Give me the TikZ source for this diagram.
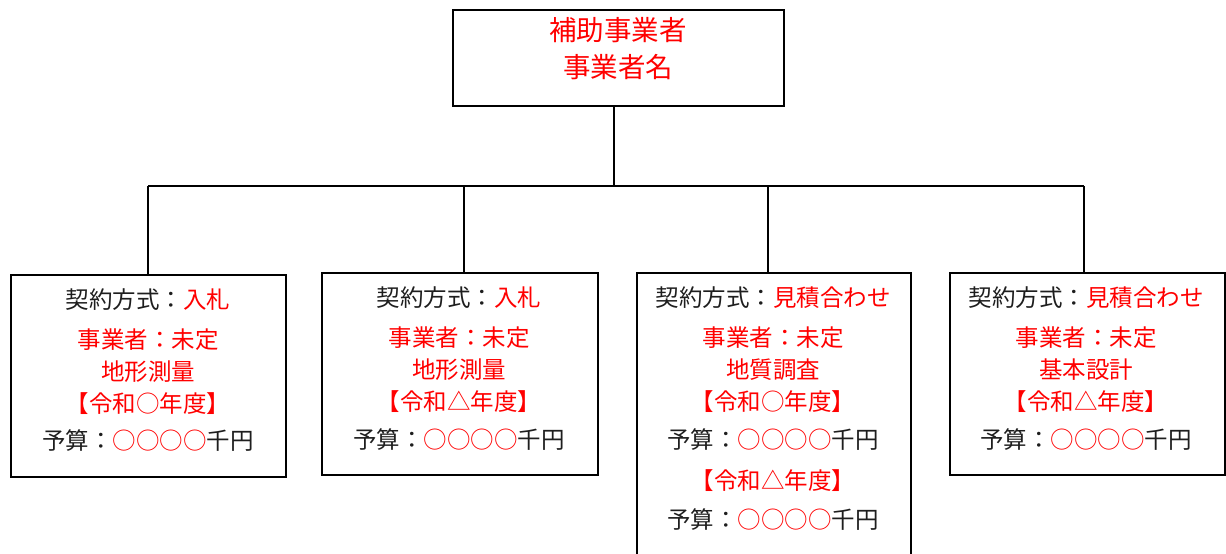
\documentclass[tikz,border=0pt]{standalone}
\usepackage{fontspec}
\newfontfamily\jp{Noto Sans CJK JP}
\definecolor{jred}{RGB}{255,0,0}
\definecolor{jblack}{RGB}{30,30,30}
\begin{document}
\begin{tikzpicture}[x=1pt,y=-1pt,
  box/.style={draw=black, line width=1.8pt, inner sep=0pt, anchor=north west},
  conn/.style={draw=black, line width=1.8pt},
  txt/.style={font=\jp\fontsize{23.5}{27}\selectfont, text=jblack, inner sep=0pt, anchor=center},
  rtxt/.style={txt, text=jred},
  ttxt/.style={font=\jp\fontsize{27.5}{31}\selectfont, text=jred, inner sep=0pt, anchor=center}]
\useasboundingbox (0,0) rectangle (1226,554);
% boxes
\node[box, minimum width=331pt, minimum height=96pt] (top) at (452,9) {};
\node[box, minimum width=275pt, minimum height=202pt] (b1) at (10,274) {};
\node[box, minimum width=276pt, minimum height=202pt] (b2) at (321,272) {};
\node[box, minimum width=274pt, minimum height=300pt] (b3) at (636,272) {};
\node[box, minimum width=275pt, minimum height=202pt] (b4) at (949,272) {};
% connectors
\coordinate (j) at (614,186);
\coordinate (c1) at (148,186);
\coordinate (c2) at (464,186);
\coordinate (c3) at (768,186);
\coordinate (c4) at (1084,186);
\draw[conn] (j |- top.south) -- (j);
\draw[conn] (c1) -- (c4);
\draw[conn] (c1) -- (c1 |- b1.north);
\draw[conn] (c2) -- (c2 |- b2.north);
\draw[conn] (c3) -- (c3 |- b3.north);
\draw[conn] (c4) -- (c4 |- b4.north);
% top text
\node[ttxt] (t1) at (618,30) {補助事業者};
\node[ttxt] (t2) at (618,67) {事業者名};
% box 1
\node[txt] (a1) at (148,300) {契約方式：\textcolor{jred}{入札}};
\node[rtxt] (a2) at (148,340) {事業者：未定};
\node[rtxt] (a3) at (148,372) {地形測量};
\node[rtxt] (a4) at (148,404) {【令和○年度】};
\node[txt] (a5) at (148,441) {予算：\textcolor{jred}{○○○○}千円};
% box 2
\node[txt] (d1) at (459,298) {契約方式：\textcolor{jred}{入札}};
\node[rtxt] (d2) at (459,338) {事業者：未定};
\node[rtxt] (d3) at (459,370) {地形測量};
\node[rtxt] (d4) at (459,402) {【令和△年度】};
\node[txt] (d5) at (459,440) {予算：\textcolor{jred}{○○○○}千円};
% box 3
\node[txt] (e1) at (773,298) {契約方式：\textcolor{jred}{見積合わせ}};
\node[rtxt] (e2) at (773,338) {事業者：未定};
\node[rtxt] (e3) at (773,370) {地質調査};
\node[rtxt] (e4) at (773,402) {【令和○年度】};
\node[txt] (e5) at (773,440) {予算：\textcolor{jred}{○○○○}千円};
\node[rtxt] (e6) at (773,481) {【令和△年度】};
\node[txt] (e7) at (773,520) {予算：\textcolor{jred}{○○○○}千円};
% box 4
\node[txt] (f1) at (1086,298) {契約方式：\textcolor{jred}{見積合わせ}};
\node[rtxt] (f2) at (1086,338) {事業者：未定};
\node[rtxt] (f3) at (1086,370) {基本設計};
\node[rtxt] (f4) at (1086,402) {【令和△年度】};
\node[txt] (f5) at (1086,440) {予算：\textcolor{jred}{○○○○}千円};
\end{tikzpicture}
\end{document}
